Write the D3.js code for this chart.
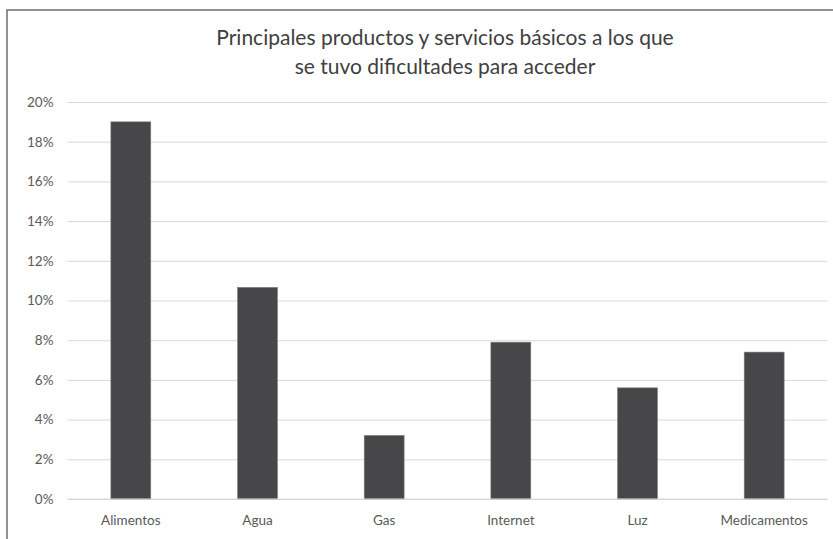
<!DOCTYPE html>
<html>
<head>
<meta charset="utf-8">
<script src="https://cdn.jsdelivr.net/npm/d3@7"></script>
<style>
  html, body { margin: 0; padding: 0; background: #ffffff; }
  svg { display: block; font-family: Lato, "Open Sans", sans-serif; }
</style>
</head>
<body>
<svg id="chart" width="833" height="539"></svg>
<script>
// Data
const categories = ["Alimentos", "Agua", "Gas", "Internet", "Luz", "Medicamentos"];
const shares = [0.19, 0.1066, 0.032, 0.079, 0.056, 0.074];
const yTicks = [0, 0.02, 0.04, 0.06, 0.08, 0.10, 0.12, 0.14, 0.16, 0.18, 0.20];
const titleLines = ["Principales productos y servicios básicos a los que", "se tuvo dificultades para acceder"];

const svg = d3.select("#chart");
const W = 833, H = 539;
const plot = { left: 67.5, right: 827.5, top: 102, bottom: 499 };
const FONT = "Lato, 'Open Sans', sans-serif";

// Chart frame
svg.append("rect")
  .attr("x", 7).attr("y", 10)
  .attr("width", W + 10).attr("height", H + 10)
  .attr("fill", "#ffffff")
  .attr("stroke", "#6f6f6f").attr("stroke-width", 1.5);

const x = d3.scaleBand()
  .domain(categories)
  .range([plot.left, plot.right])
  .paddingInner(0.685)
  .paddingOuter(0.3425);

const y = d3.scaleLinear()
  .domain([0, 0.20])
  .range([plot.bottom, plot.top]);

// Gridlines and y labels
const yAxis = d3.axisLeft(y)
  .tickValues(yTicks)
  .tickFormat(d3.format(".0%"))
  .tickSize(-(plot.right - plot.left))
  .tickPadding(14);

const gy = svg.append("g")
  .attr("transform", `translate(${plot.left},0)`)
  .call(yAxis)
  .attr("font-family", FONT);
gy.select(".domain").remove();
gy.selectAll(".tick line").attr("stroke", "#d9d9d9").attr("stroke-width", 1);
gy.selectAll(".tick text")
  .attr("fill", "#595959")
  .style("font-size", "13.5px");

// Bars
svg.append("g")
  .selectAll("rect")
  .data(categories.map((c, i) => ({ c, v: shares[i] })))
  .join("rect")
  .attr("x", d => x(d.c))
  .attr("y", d => y(d.v))
  .attr("width", x.bandwidth())
  .attr("height", d => y(0) - y(d.v))
  .attr("fill", "#474749")
  .attr("stroke", "#7a7a7a")
  .attr("stroke-width", 0.6);

// Baseline
svg.append("line")
  .attr("x1", plot.left).attr("x2", plot.right)
  .attr("y1", y(0)).attr("y2", y(0))
  .attr("stroke", "#d9d9d9").attr("stroke-width", 1);

// Category labels
const xAxis = d3.axisBottom(x).tickSize(0).tickPadding(16);
const gx = svg.append("g")
  .attr("transform", `translate(0,${plot.bottom})`)
  .call(xAxis)
  .attr("font-family", FONT);
gx.select(".domain").remove();
gx.selectAll(".tick text")
  .attr("fill", "#595959")
  .style("font-size", "13.5px");

// Title
svg.append("text")
  .attr("x", 445).attr("y", 45)
  .attr("text-anchor", "middle")
  .attr("fill", "#404040")
  .style("font-size", "21px")
  .selectAll("tspan")
  .data(titleLines)
  .join("tspan")
  .attr("x", 445)
  .attr("dy", (d, i) => i === 0 ? 0 : 29)
  .text(d => d);
</script>
</body>
</html>
